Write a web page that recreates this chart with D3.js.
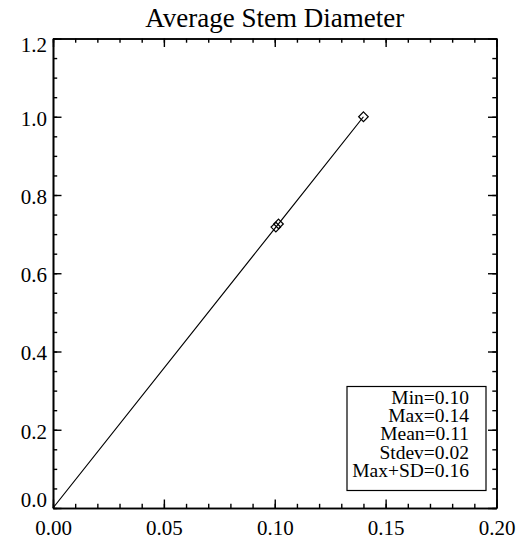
<!DOCTYPE html>
<html>
<head>
<meta charset="utf-8">
<script src="https://cdn.jsdelivr.net/npm/d3@7"></script>
</head>
<body style="margin:0;padding:0;background:#fff">
<svg id="chart" width="529" height="542" style="display:block"></svg>
<script>
// ---- data ----
const title = "Average Stem Diameter";
const pointX = [0.1005, 0.1017, 0.14];
const pointY = [0.718, 0.726, 1.0];
const lineX = [0, 0.1005, 0.1017, 0.14];
const lineY = [0, 0.718, 0.726, 1.0];
const xTicks = [0, 0.05, 0.10, 0.15, 0.20];
const xTickLabels = ["0.00", "0.05", "0.10", "0.15", "0.20"];
const yTicks = [0, 0.2, 0.4, 0.6, 0.8, 1.0, 1.2];
const yTickLabels = ["0.0", "0.2", "0.4", "0.6", "0.8", "1.0", "1.2"];
const xMinor = d3.range(0, 21).map(i => i / 100);
const yMinor = d3.range(0, 25).map(i => i * 0.05);
const statLines = ["Min=0.10", "Max=0.14", "Mean=0.11", "Stdev=0.02", "Max+SD=0.16"];

// ---- layout ----
const FONT = "Liberation Serif";
const pLeft = 53, pRight = 496.5, pTop = 38.5, pBottom = 508;
const svg = d3.select("#chart");

const x = d3.scaleLinear().domain([0, 0.2]).range([pLeft, pRight]);
const y = d3.scaleLinear().domain([0, 1.2]).range([pBottom, pTop]);

const major = 8.5, minor = 4.2;

function styleAxis(g) {
  g.attr("font-family", null).attr("font-size", null);
  g.selectAll("path.domain").attr("stroke", "#000").attr("stroke-width", 1.6);
  g.selectAll(".tick line").attr("stroke", "#000").attr("stroke-width", 1.4);
  g.selectAll("text").style("font-family", FONT).style("font-size", "21px").attr("fill", "#000");
}

// minor ticks
svg.append("g").attr("transform", `translate(0,${pBottom})`)
  .call(d3.axisBottom(x).tickValues(xMinor).tickSize(-minor).tickSizeOuter(0).tickFormat(""))
  .call(styleAxis);
svg.append("g").attr("transform", `translate(0,${pTop})`)
  .call(d3.axisTop(x).tickValues(xMinor).tickSize(-minor).tickSizeOuter(0).tickFormat(""))
  .call(styleAxis);
svg.append("g").attr("transform", `translate(${pLeft},0)`)
  .call(d3.axisLeft(y).tickValues(yMinor).tickSize(-minor).tickSizeOuter(0).tickFormat(""))
  .call(styleAxis);
svg.append("g").attr("transform", `translate(${pRight},0)`)
  .call(d3.axisRight(y).tickValues(yMinor).tickSize(-minor).tickSizeOuter(0).tickFormat(""))
  .call(styleAxis);

// major ticks
svg.append("g").attr("transform", `translate(0,${pBottom})`)
  .call(d3.axisBottom(x).tickValues(xTicks).tickSize(-major).tickSizeOuter(0).tickPadding(12)
    .tickFormat((d, i) => xTickLabels[i]))
  .call(styleAxis);
svg.append("g").attr("transform", `translate(0,${pTop})`)
  .call(d3.axisTop(x).tickValues(xTicks).tickSize(-major).tickSizeOuter(0).tickFormat(""))
  .call(styleAxis);
const yAx = svg.append("g").attr("transform", `translate(${pLeft},0)`)
  .call(d3.axisLeft(y).tickValues(yTicks).tickSize(-major).tickSizeOuter(0).tickPadding(6)
    .tickFormat((d, i) => yTickLabels[i]))
  .call(styleAxis);
yAx.selectAll(".tick text").attr("dy", (d, i) => i === 0 ? "-0.05em" : (i === yTicks.length - 1 ? "0.6em" : "0.4em"));
svg.append("g").attr("transform", `translate(${pRight},0)`)
  .call(d3.axisRight(y).tickValues(yTicks).tickSize(-major).tickSizeOuter(0).tickFormat(""))
  .call(styleAxis);

// title
svg.append("text")
  .attr("x", (pLeft + pRight) / 2).attr("y", 26.7)
  .attr("text-anchor", "middle")
  .style("font-family", FONT).style("font-size", "27px").attr("fill", "#000")
  .text(title);

// line
const lineData = lineX.map((v, i) => [v, lineY[i]]);
svg.append("path")
  .datum(lineData)
  .attr("fill", "none").attr("stroke", "#000").attr("stroke-width", 1.2)
  .attr("d", d3.line().x(d => x(d[0])).y(d => y(d[1])));

// diamonds
const pts = pointX.map((v, i) => [v, pointY[i]]);
svg.append("g").selectAll("path").data(pts).join("path")
  .attr("transform", d => `translate(${x(d[0])},${y(d[1])})`)
  .attr("d", "M0,-4.8L4.8,0L0,4.8L-4.8,0Z")
  .attr("fill", "none").attr("stroke", "#000").attr("stroke-width", 1.2);

// stats box
const bx0 = 347, bx1 = 486, by0 = 386.5, by1 = 490.5;
svg.append("rect").attr("x", bx0).attr("y", by0).attr("width", bx1 - bx0).attr("height", by1 - by0)
  .attr("fill", "#fff").attr("stroke", "#000").attr("stroke-width", 1.2);
svg.append("g").selectAll("text").data(statLines).join("text")
  .attr("x", 469).attr("y", (d, i) => 404.3 + i * 18.08)
  .attr("text-anchor", "end")
  .style("font-family", FONT).style("font-size", "19.5px").attr("fill", "#000")
  .text(d => d);
</script>
</body>
</html>
